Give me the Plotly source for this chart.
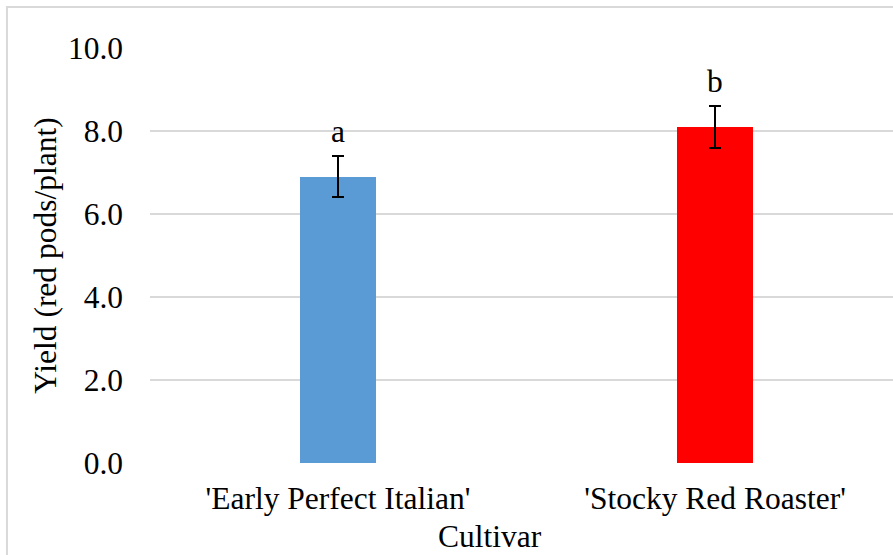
import plotly.graph_objects as go

# Pepper yield by cultivar (mean red pods per plant, with error)
cultivars = ["'Early Perfect Italian'", "'Stocky Red Roaster'"]
yield_mean = [6.9, 8.1]
yield_err = [0.5, 0.5]
bar_colors = ["#5B9BD5", "#FF0000"]
letters = ["a", "b"]
y_ticks = [0, 2, 4, 6, 8, 10]
y_tick_text = ["0.0", "2.0", "4.0", "6.0", "8.0", "10.0"]

FONT = "Times New Roman, Liberation Serif, serif"
FS = 31.5

fig = go.Figure()
fig.add_trace(go.Bar(
    x=[0, 1],
    y=yield_mean,
    width=0.2,
    marker=dict(color=bar_colors, line=dict(width=0)),
    error_y=dict(type="data", array=yield_err, visible=True,
                 color="black", thickness=2, width=6),
    showlegend=False,
))

# Significance letters above the error bars
for i, (m, e, lab) in enumerate(zip(yield_mean, yield_err, letters)):
    fig.add_annotation(x=i, y=m + e, text=lab, showarrow=False,
                       xref="x", yref="y", yanchor="bottom", yshift=5,
                       font=dict(family=FONT, size=FS, color="black"))

# Axis title for cultivar
fig.add_annotation(x=(490 - 150) / 743, y=-0.177, xref="paper", yref="paper",
                   text="Cultivar", showarrow=False, yanchor="middle",
                   font=dict(family=FONT, size=FS, color="black"))

# Outer chart border
fig.add_shape(type="rect", xref="paper", yref="paper",
              x0=-0.1925, x1=1.3, y0=-0.6, y1=1.0987,
              line=dict(color="#d9d9d9", width=2), layer="below")

fig.update_layout(
    width=893, height=555,
    margin=dict(l=150, r=0, t=48, b=91.5, pad=0),
    paper_bgcolor="white", plot_bgcolor="white",
    bargap=0,
    font=dict(family=FONT, size=FS, color="black"),
    xaxis=dict(
        range=[-0.4987, 1.472],
        tickmode="array", tickvals=[0, 1], ticktext=cultivars,
        showgrid=False, zeroline=False, showline=False,
        ticks="", ticklabelstandoff=13,
        tickfont=dict(family=FONT, size=FS, color="black"),
    ),
    yaxis=dict(
        range=[0, 10],
        tickmode="array", tickvals=y_ticks, ticktext=y_tick_text,
        showgrid=True, gridcolor="#d9d9d9", gridwidth=1.5,
        zeroline=False, showline=False, ticks="",
        ticklabelstandoff=26,
        tickfont=dict(family=FONT, size=FS, color="black"),
        title=dict(text="Yield (red pods/plant)", standoff=1,
                   font=dict(family=FONT, size=FS, color="black")),
    ),
)

fig.write_html("out.html")
